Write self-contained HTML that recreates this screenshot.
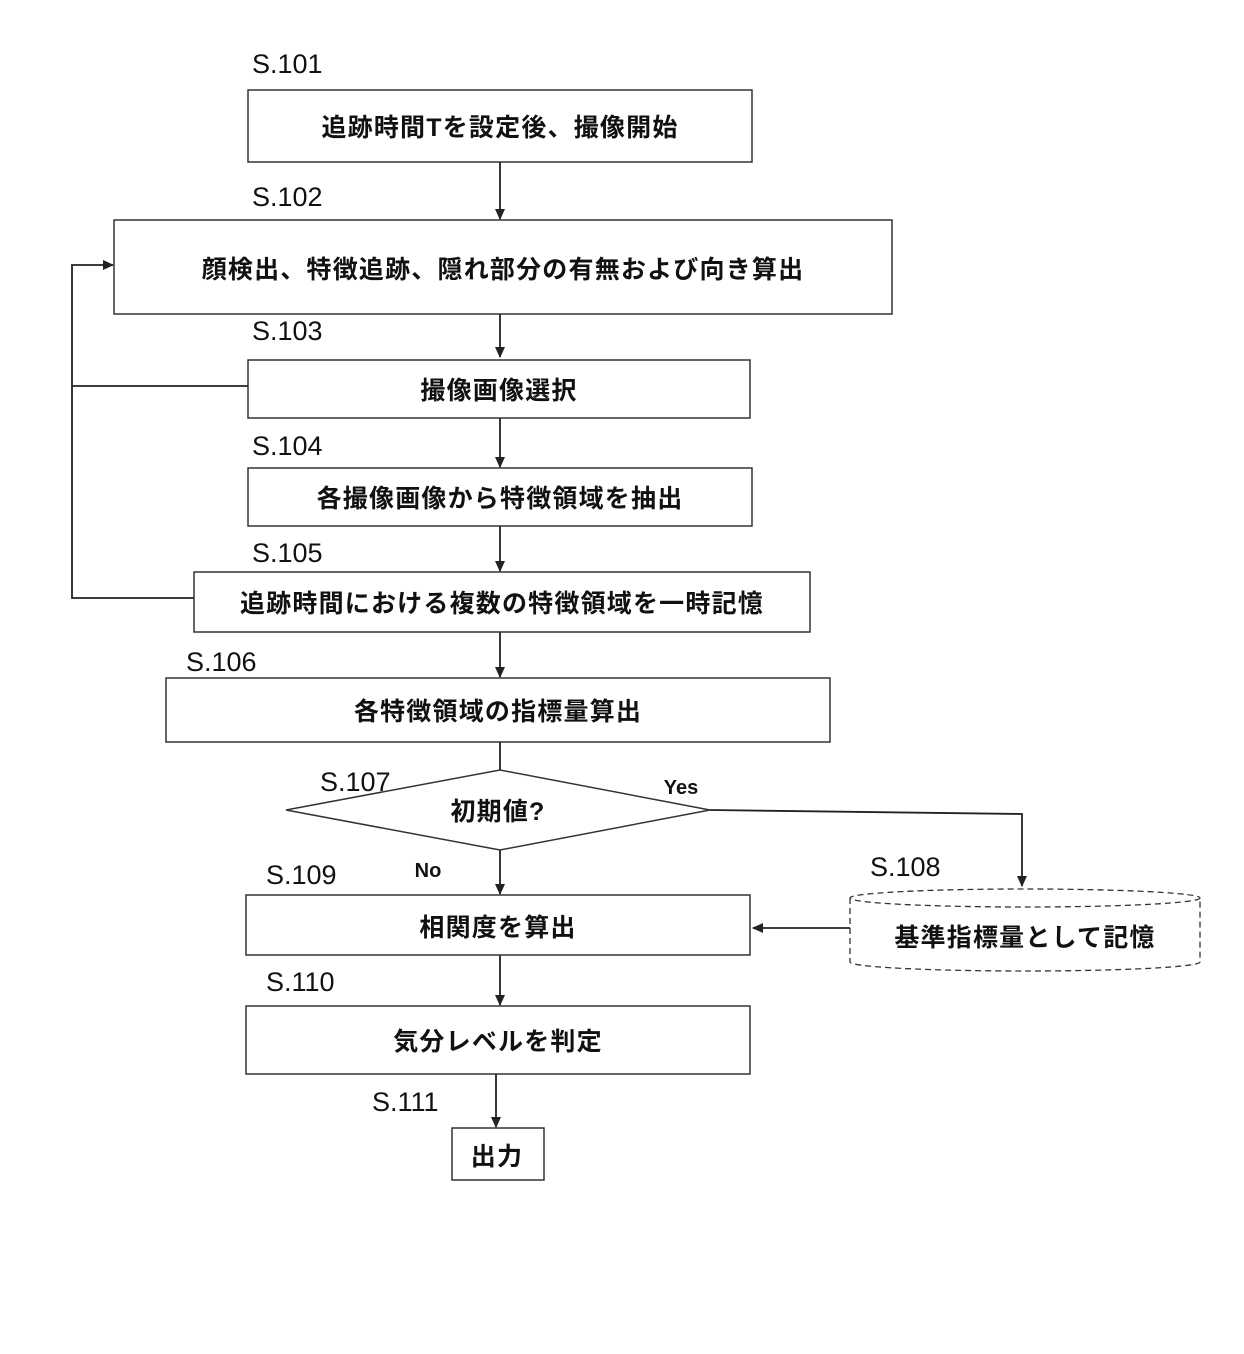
<!DOCTYPE html>
<html><head><meta charset="utf-8"><style>
html,body{margin:0;padding:0;background:#fff;}
svg{display:block;}
.l{font-family:"Liberation Sans",sans-serif;font-size:27px;fill:#111;}
.t{font-family:"Liberation Sans","Noto Sans CJK JP",sans-serif;font-size:25px;font-weight:bold;fill:#111;letter-spacing:1.2px;}
.b{fill:#fff;stroke:#333;stroke-width:1.5;}
</style></head><body>
<svg width="1244" height="1354" viewBox="0 0 1244 1354" xmlns="http://www.w3.org/2000/svg">
<defs><marker id="a" markerWidth="12" markerHeight="12" refX="10" refY="5" orient="auto" markerUnits="userSpaceOnUse"><path d="M0,0 L11,5 L0,10 z" fill="#222"/></marker></defs>
<g stroke="#222" stroke-width="1.8" fill="none">
<line x1="500" y1="162" x2="500" y2="219" marker-end="url(#a)"/>
<line x1="500" y1="314" x2="500" y2="357" marker-end="url(#a)"/>
<line x1="500" y1="418" x2="500" y2="467" marker-end="url(#a)"/>
<line x1="500" y1="526" x2="500" y2="571" marker-end="url(#a)"/>
<line x1="500" y1="632" x2="500" y2="677" marker-end="url(#a)"/>
<line x1="500" y1="742" x2="500" y2="770"/>
<line x1="500" y1="850" x2="500" y2="894" marker-end="url(#a)"/>
<line x1="500" y1="955" x2="500" y2="1005" marker-end="url(#a)"/>
<line x1="496" y1="1074" x2="496" y2="1127" marker-end="url(#a)"/>
<polyline points="248,386 72,386"/>
<polyline points="194,598 72,598 72,265 113,265" marker-end="url(#a)"/>
<polyline points="710,810 1022,814 1022,886" marker-end="url(#a)"/>
<line x1="850" y1="928" x2="753" y2="928" marker-end="url(#a)"/>
</g>
<rect class="b" x="248" y="90" width="504" height="72"/>
<rect class="b" x="114" y="220" width="778" height="94"/>
<rect class="b" x="248" y="360" width="502" height="58"/>
<rect class="b" x="248" y="468" width="504" height="58"/>
<rect class="b" x="194" y="572" width="616" height="60"/>
<rect class="b" x="166" y="678" width="664" height="64"/>
<polygon class="b" points="286,810 500,770 710,810 500,850"/>
<rect class="b" x="246" y="895" width="504" height="60"/>
<rect class="b" x="246" y="1006" width="504" height="68"/>
<rect class="b" x="452" y="1128" width="92" height="52"/>
<g fill="#fff" stroke="#333" stroke-width="1.3" stroke-dasharray="6,4">
<path d="M850,898 L850,962 A175,9 0 0 0 1200,962 L1200,898"/>
<ellipse cx="1025" cy="898" rx="175" ry="9"/>
</g>
<g class="l">
<text x="252" y="73">S.101</text>
<text x="252" y="206">S.102</text>
<text x="252" y="340">S.103</text>
<text x="252" y="455">S.104</text>
<text x="252" y="562">S.105</text>
<text x="186" y="671">S.106</text>
<text x="320" y="791">S.107</text>
<text x="870" y="876">S.108</text>
<text x="266" y="884">S.109</text>
<text x="266" y="991">S.110</text>
<text x="372" y="1111">S.111</text>
</g>
<g class="t" text-anchor="middle">
<text x="500" y="136">追跡時間Tを設定後、撮像開始</text>
<text x="503" y="278">顔検出、特徴追跡、隠れ部分の有無および向き算出</text>
<text x="499" y="399">撮像画像選択</text>
<text x="500" y="507">各撮像画像から特徴領域を抽出</text>
<text x="502" y="612">追跡時間における複数の特徴領域を一時記憶</text>
<text x="498" y="720">各特徴領域の指標量算出</text>
<text x="498" y="820">初期値?</text>
<text x="681" y="794" style="font-size:20px;letter-spacing:0">Yes</text>
<text x="428" y="877" style="font-size:20px;letter-spacing:0">No</text>
<text x="498" y="936">相関度を算出</text>
<text x="1025" y="946">基準指標量として記憶</text>
<text x="498" y="1050">気分レベルを判定</text>
<text x="497" y="1165">出力</text>
</g>
</svg>
</body></html>
